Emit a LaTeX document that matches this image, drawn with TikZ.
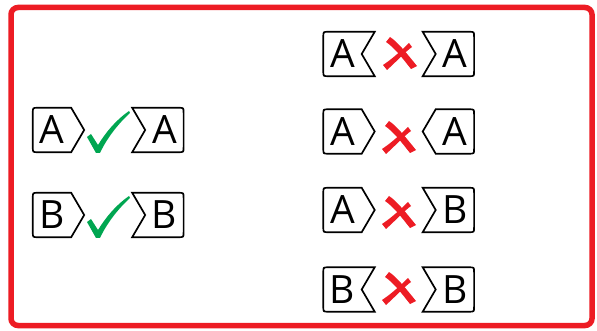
\documentclass[tikz,border=0pt]{standalone}
\usepackage{fontspec}
\setmainfont{Open Sans}
\usetikzlibrary{positioning}
\definecolor{framered}{RGB}{237,28,36}
\definecolor{tickgreen}{RGB}{0,166,81}

% outlines drawn round a letter node (rounded on the flat side only)
\newcommand\flatleft[1]{([xshift=5pt]#1.south west) .. controls (#1.south west) .. ([yshift=5pt]#1.south west) -- ([yshift=-5pt]#1.north west) .. controls (#1.north west) .. ([xshift=5pt]#1.north west)}
\newcommand\flatright[1]{([xshift=-5pt]#1.north east) .. controls (#1.north east) .. ([yshift=-5pt]#1.north east) -- ([yshift=5pt]#1.south east) .. controls (#1.south east) .. ([xshift=-5pt]#1.south east)}
\newcommand\tilepointR[1]{\draw[tileline] \flatleft{#1} -- (#1.north east) -- ([xshift=13pt]#1.east) -- (#1.south east) -- cycle;}
\newcommand\tilenotchR[1]{\draw[tileline] \flatleft{#1} -- ([xshift=13pt]#1.north east) -- (#1.east) -- ([xshift=13pt]#1.south east) -- cycle;}
\newcommand\tilepointL[1]{\draw[tileline] \flatright{#1} -- (#1.south west) -- ([xshift=-13pt]#1.west) -- (#1.north west) -- cycle;}
\newcommand\tilenotchL[1]{\draw[tileline] \flatright{#1} -- ([xshift=-13pt]#1.south west) -- (#1.west) -- ([xshift=-13pt]#1.north west) -- cycle;}

\begin{document}
\begin{tikzpicture}[
        x=1pt, y=-1pt,
        tile/.style={
            inner sep=0pt,
            minimum width=38pt,
            minimum height=44pt,
            font=\fontsize{39}{39}\selectfont
        },
        tileline/.style={line width=1.7pt, line join=miter},
        frame/.style={draw=framered, line width=5.5pt, rounded corners=7pt},
        tick/.pic={
            \fill[tickgreen] (-21,7) -- (-17,4) -- (-10,15)
                .. controls (-2,2) and (8,-10) .. (21,-19) -- (22,-17)
                .. controls (10,-6) and (-1,8) .. (-8,23) -- (-12,23) -- cycle;
        },
        cross/.pic={
            \fill[framered] (-13,-12) .. controls (-4,-6) and (4,5) .. (12,15)
                -- (18,12) .. controls (9,1) and (-1,-12) .. (-9,-17) -- cycle;
            \fill[framered] (10,-11) .. controls (2,-3) and (-7,5) .. (-16,11)
                -- (-12,16) .. controls (-3,8) and (6,-2) .. (13,-7) -- cycle;
        }
    ]
    \useasboundingbox (0,0) rectangle (597,331);
    \draw[frame] (11,7.5) rectangle (592,325.5);

    % matching pairs
    \node[tile] (a1) at (52,130) {A};
    \node[tile, right=74pt of a1] (a2) {A};
    \node[tile] (b1) at (52,215) {B};
    \node[tile, right=74pt of b1] (b2) {B};
    \tilepointR{a1} \tilenotchL{a2}
    \tilepointR{b1} \tilenotchL{b2}
    \pic at (108,130) {tick};
    \pic at (108,215) {tick};

    % pairs that do not fit
    \node[tile] (r1l) at (342.5,54) {A};
    \node[tile, right=74pt of r1l] (r1r) {A};
    \node[tile] (r2l) at (342.5,131.5) {A};
    \node[tile, right=74pt of r2l] (r2r) {A};
    \node[tile] (r3l) at (342.5,210) {A};
    \node[tile, right=74pt of r3l] (r3r) {B};
    \node[tile] (r4l) at (342.5,289.5) {B};
    \node[tile, right=74pt of r4l] (r4r) {B};
    \tilenotchR{r1l} \tilenotchL{r1r}
    \tilepointR{r2l} \tilepointL{r2r}
    \tilepointR{r3l} \tilenotchL{r3r}
    \tilenotchR{r4l} \tilenotchL{r4r}
    \pic at (399,54) {cross};
    \pic at (398,138) {cross};
    \pic at (398,213) {cross};
    \pic at (398,289) {cross};
\end{tikzpicture}
\end{document}
